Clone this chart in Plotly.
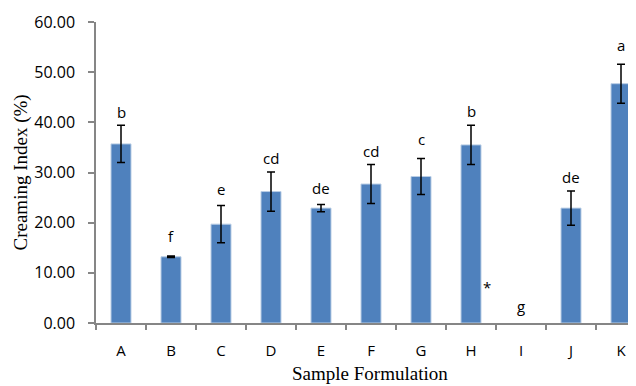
import plotly.graph_objects as go

categories = ["A", "B", "C", "D", "E", "F", "G", "H", "I", "J", "K"]
values = [35.7, 13.2, 19.7, 26.2, 22.9, 27.7, 29.2, 35.5, 0.0, 22.9, 47.7]
errors = [3.7, 0.15, 3.7, 3.9, 0.7, 3.9, 3.6, 3.9, 0.0, 3.4, 3.9]
letters = ["b", "f", "e", "cd", "de", "cd", "c", "b", "g", "de", "a"]
y_ticks = [0, 10, 20, 30, 40, 50, 60]

# pixel offsets of the letter labels above their error bars (style only)
label_lift = [1, 8, 5, 2, 5, 1, 7, 2, 0, 2, 7]

# a zero-height bar draws nothing in the reference
bar_y = [v if v > 0 else None for v in values]

fig = go.Figure()
fig.add_trace(go.Bar(
    x=categories, y=bar_y, width=0.4,
    marker=dict(color="#4F81BD", line=dict(color="#B9CDE5", width=1)),
    error_y=dict(type="data", array=errors, visible=True, color="black",
                 thickness=1.5, width=4),
    showlegend=False,
    cliponaxis=False,
))

letter_font = dict(family="Open Sans", size=15, color="black")
for c, v, e, t, lift in zip(categories, values, errors, letters, label_lift):
    if v == 0:
        fig.add_annotation(x=c, y=3.3, text=t, showarrow=False, font=letter_font)
    else:
        fig.add_annotation(x=c, y=v + e, text=t, showarrow=False, yanchor="bottom",
                           yshift=lift, font=letter_font)

fig.add_annotation(x="H", y=7.2, xshift=16, text="*", showarrow=False, font=letter_font)

# axis titles
fig.add_annotation(xref="paper", yref="paper", x=0.5, y=0, xshift=4, yshift=-63,
                   yanchor="bottom", text="Sample Formulation", showarrow=False,
                   font=dict(family="Liberation Serif", size=19, color="black"))
fig.add_annotation(xref="paper", yref="paper", x=0, y=0.5, xshift=-76, xanchor="center",
                   textangle=-90, text="Creaming Index (%)", showarrow=False,
                   font=dict(family="Liberation Serif", size=19, color="black"))

axis_font = dict(family="Open Sans", size=15, color="black")
# page body has an 8px margin: figure is sized/offset to fill the 636x386 window
fig.update_layout(
    width=628, height=378,
    margin=dict(l=88, r=0, t=14, b=63),
    plot_bgcolor="white", paper_bgcolor="white",
    xaxis=dict(
        type="category", range=[-0.5, 10.3], automargin=False,
        showline=True, linecolor="#868686", linewidth=1.5,
        ticks="outside", tickson="boundaries", ticklen=5, tickcolor="#868686", tickwidth=1.5,
        tickfont=axis_font, ticklabelstandoff=13,
        showgrid=False, zeroline=False,
    ),
    yaxis=dict(
        range=[0, 60], tickvals=y_ticks, tickformat=".2f", automargin=False,
        showline=True, linecolor="#868686", linewidth=1.5,
        ticks="outside", ticklen=6, tickcolor="#868686", tickwidth=1.5,
        tickfont=dict(family="Open Sans", size=16, color="black"), ticklabelstandoff=10,
        showgrid=False, zeroline=False,
    ),
)

fig.write_html("out.html")
